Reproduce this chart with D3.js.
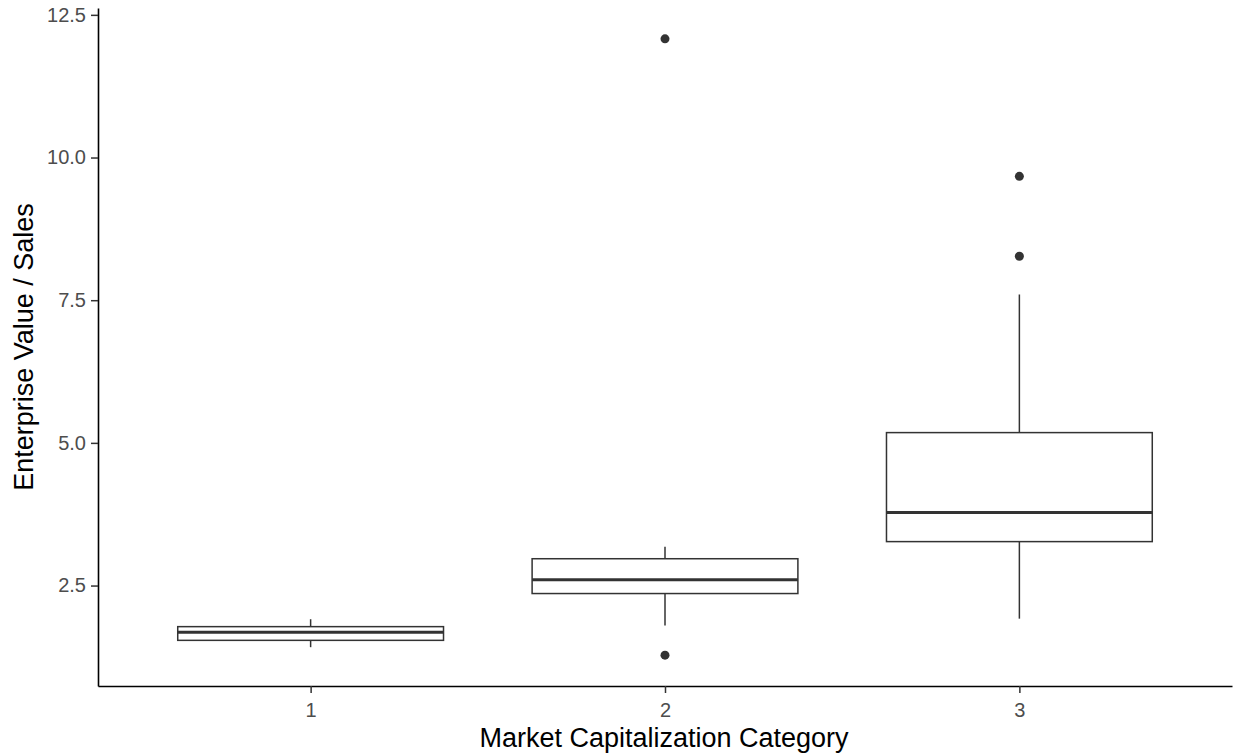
<!DOCTYPE html>
<html>
<head>
<meta charset="utf-8">
<script src="https://cdn.jsdelivr.net/npm/d3@7/dist/d3.min.js"></script>
<style>
  html, body { margin: 0; padding: 0; background: #fff; }
  svg { display: block; font-family: "Liberation Sans", Arial, sans-serif; }
</style>
</head>
<body>
<svg id="chart" width="1235" height="756"></svg>
<script>
// Market capitalization categories and box statistics of EV / Sales
const categories = ["1", "2", "3"];
const lowerWhisker = [1.42, 1.80, 1.92];
const q1 = [1.54, 2.36, 3.27];
const median = [1.68, 2.60, 3.78];
const q3 = [1.78, 2.97, 5.18];
const upperWhisker = [1.91, 3.18, 7.60];
// Outliers: category and value
const outlierCategory = ["2", "2", "3", "3"];
const outlierValue = [12.08, 1.28, 9.67, 8.27];
const yTicks = [2.5, 5.0, 7.5, 10.0, 12.5];

const svg = d3.select("#chart");
const plotLeft = 98, plotRight = 1232, plotTop = 8, plotBottom = 686;

const allValues = lowerWhisker.concat(upperWhisker, outlierValue);
const vmin = d3.min(allValues), vmax = d3.max(allValues);
const pad = (vmax - vmin) * 0.05;

const y = d3.scaleLinear().domain([vmin - pad, vmax + pad]).range([plotBottom, plotTop]);
const x = d3.scalePoint().domain(categories).range([plotLeft, plotRight]).padding(0.6);
const boxW = x.step() * 0.75;

const ink = "#333333";

const boxes = categories.map((c, i) => ({
  c, lo: lowerWhisker[i], q1: q1[i], med: median[i], q3: q3[i], hi: upperWhisker[i]
}));

const g = svg.append("g");

// whiskers
g.selectAll("line.whisker-up").data(boxes).join("line")
  .attr("class", "whisker-up")
  .attr("x1", d => x(d.c)).attr("x2", d => x(d.c))
  .attr("y1", d => y(d.q3)).attr("y2", d => y(d.hi))
  .attr("stroke", ink).attr("stroke-width", 1.5);
g.selectAll("line.whisker-down").data(boxes).join("line")
  .attr("class", "whisker-down")
  .attr("x1", d => x(d.c)).attr("x2", d => x(d.c))
  .attr("y1", d => y(d.q1)).attr("y2", d => y(d.lo))
  .attr("stroke", ink).attr("stroke-width", 1.5);

// boxes
g.selectAll("rect.box").data(boxes).join("rect")
  .attr("class", "box")
  .attr("x", d => x(d.c) - boxW / 2)
  .attr("width", boxW)
  .attr("y", d => y(d.q3))
  .attr("height", d => y(d.q1) - y(d.q3))
  .attr("fill", "#fff").attr("stroke", ink).attr("stroke-width", 1.5);

// medians
g.selectAll("line.median").data(boxes).join("line")
  .attr("class", "median")
  .attr("x1", d => x(d.c) - boxW / 2).attr("x2", d => x(d.c) + boxW / 2)
  .attr("y1", d => y(d.med)).attr("y2", d => y(d.med))
  .attr("stroke", ink).attr("stroke-width", 3);

// outliers
g.selectAll("circle.outlier").data(outlierValue.map((v, i) => ({ c: outlierCategory[i], v })))
  .join("circle")
  .attr("class", "outlier")
  .attr("cx", d => x(d.c)).attr("cy", d => y(d.v)).attr("r", 4.5)
  .attr("fill", ink);

// axes
const axisStyle = sel => {
  sel.select(".domain").attr("stroke", "#000").attr("stroke-width", 1.6);
  sel.selectAll(".tick line").attr("stroke", ink).attr("stroke-width", 1.5);
  sel.selectAll(".tick text").attr("fill", "#4d4d4d")
    .style("font-size", "20px").style("font-family", "'Liberation Sans', Arial, sans-serif");
};

svg.append("g")
  .attr("transform", `translate(0,${plotBottom})`)
  .call(d3.axisBottom(x).tickSize(7).tickSizeOuter(0).tickPadding(10))
  .call(axisStyle);

svg.append("g")
  .attr("transform", `translate(${plotLeft},0)`)
  .call(d3.axisLeft(y).tickValues(yTicks).tickFormat(d3.format(".1f")).tickSize(7).tickSizeOuter(0).tickPadding(5))
  .call(axisStyle);

// axis titles
svg.append("text")
  .attr("x", 664).attr("y", 747)
  .attr("text-anchor", "middle")
  .attr("fill", "#000")
  .style("font-size", "27px")
  .text("Market Capitalization Category");

svg.append("text")
  .attr("transform", `translate(33,${(plotTop + plotBottom) / 2}) rotate(-90)`)
  .attr("text-anchor", "middle")
  .attr("fill", "#000")
  .style("font-size", "27px")
  .text("Enterprise Value / Sales");
</script>
</body>
</html>
